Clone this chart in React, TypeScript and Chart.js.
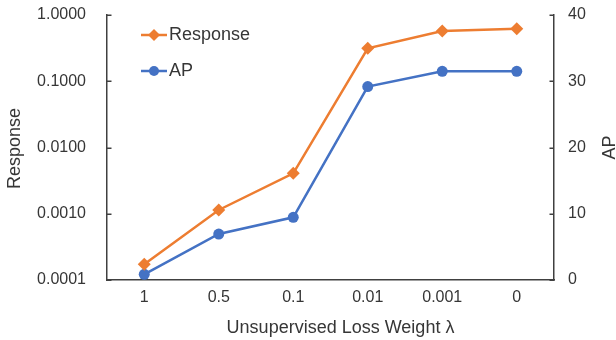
import React, { useEffect, useRef } from 'react';
import { Chart, registerables } from 'chart.js';

Chart.register(...registerables);

const categories = ['1', '0.5', '0.1', '0.01', '0.001', '0'];
const responseValues = [0.000173, 0.00114, 0.00407, 0.314, 0.573, 0.621];
const apValues = [0.86, 6.94, 9.46, 29.2, 31.5, 31.5];
const responseTicks = [0.0001, 0.001, 0.01, 0.1, 1];
const apTicks = [0, 10, 20, 30, 40];

const ORANGE = '#ED7D31';
const BLUE = '#4472C4';
const TEXT = '#363636';
const AXIS = '#404040';
const FONT = "'Liberation Sans', Arial, sans-serif";

const overlayPlugin = {
  id: 'overlay',
  afterDraw(chart: any) {
    const ctx = chart.ctx;
    const area = chart.chartArea;
    ctx.save();
    // inward tick marks
    ctx.strokeStyle = AXIS;
    ctx.lineWidth = 1.5;
    const yL = chart.scales.y;
    const yR = chart.scales.y1;
    responseTicks.forEach((v) => {
      const py = Math.round(yL.getPixelForValue(v)) + 0.25;
      ctx.beginPath();
      ctx.moveTo(area.left, py);
      ctx.lineTo(area.left + 4.5, py);
      ctx.stroke();
    });
    apTicks.forEach((v) => {
      const py = Math.round(yR.getPixelForValue(v)) + 0.25;
      ctx.beginPath();
      ctx.moveTo(area.right, py);
      ctx.lineTo(area.right - 4.5, py);
      ctx.stroke();
    });
    // legend
    const items = [
      { label: 'Response', color: ORANGE, style: 'rectRot', r: 6, y: 35 },
      { label: 'AP', color: BLUE, style: 'circle', r: 5.5, y: 71 },
    ];
    items.forEach((it) => {
      ctx.strokeStyle = it.color;
      ctx.lineWidth = 2.5;
      ctx.beginPath();
      ctx.moveTo(141, it.y);
      ctx.lineTo(167, it.y);
      ctx.stroke();
      ctx.fillStyle = it.color;
      ctx.beginPath();
      if (it.style === 'circle') {
        ctx.arc(154, it.y, 5, 0, Math.PI * 2);
      } else {
        ctx.moveTo(154, it.y - it.r);
        ctx.lineTo(154 + it.r, it.y);
        ctx.lineTo(154, it.y + it.r);
        ctx.lineTo(154 - it.r, it.y);
        ctx.closePath();
      }
      ctx.fill();
      ctx.fillStyle = TEXT;
      ctx.font = `18px ${FONT}`;
      ctx.textAlign = 'left';
      ctx.textBaseline = 'middle';
      ctx.fillText(it.label, 169, it.y);
    });
    // axis titles
    ctx.fillStyle = TEXT;
    ctx.font = `18px ${FONT}`;
    ctx.textAlign = 'center';
    ctx.textBaseline = 'middle';
    ctx.fillText('Unsupervised Loss Weight λ', 340.5, 328);
    const midY = (area.top + area.bottom) / 2;
    ctx.save();
    ctx.translate(15.5, midY + 1);
    ctx.rotate(-Math.PI / 2);
    ctx.fillText('Response', 0, 0);
    ctx.restore();
    ctx.save();
    ctx.translate(610, midY);
    ctx.rotate(-Math.PI / 2);
    ctx.fillText('AP', 0, 0);
    ctx.restore();
    ctx.restore();
  },
};

export default function App() {
  const ref = useRef<HTMLCanvasElement>(null);
  useEffect(() => {
    if (!ref.current) return;
    const chart = new Chart(ref.current, {
      type: 'line',
      data: {
        labels: categories,
        datasets: [
          {
            label: 'Response',
            data: responseValues,
            yAxisID: 'y',
            borderColor: ORANGE,
            backgroundColor: ORANGE,
            borderWidth: 2.5,
            pointStyle: 'rectRot',
            pointRadius: 6.5,
            pointBorderWidth: 0,
            pointBackgroundColor: ORANGE,
            tension: 0,
          },
          {
            label: 'AP',
            data: apValues,
            yAxisID: 'y1',
            borderColor: BLUE,
            backgroundColor: BLUE,
            borderWidth: 2.5,
            pointStyle: 'circle',
            pointRadius: 5.5,
            pointBorderWidth: 0,
            pointBackgroundColor: BLUE,
            tension: 0,
          },
        ],
      },
      options: {
        responsive: false,
        animation: false,
        devicePixelRatio: 1,
        layout: { padding: { top: 15, left: 0, right: 0, bottom: 0 } },
        plugins: { legend: { display: false }, tooltip: { enabled: false } },
        scales: {
          x: {
            offset: true,
            grid: { display: false, drawTicks: false },
            border: { display: true, color: AXIS, width: 1.5 },
            ticks: { color: TEXT, font: { family: FONT, size: 16 }, padding: 8, maxRotation: 0 },
            afterFit: (s: any) => { s.height = 60; s.paddingLeft = 0; s.paddingRight = 0; },
          },
          y: {
            type: 'logarithmic',
            position: 'left',
            min: 0.0001,
            max: 1,
            afterBuildTicks: (s: any) => { s.ticks = responseTicks.map((v) => ({ value: v })); },
            ticks: {
              color: TEXT,
              font: { family: FONT, size: 16 },
              padding: 21,
              callback: (v: any) => Number(v).toFixed(4),
            },
            grid: { display: false, drawTicks: false },
            border: { display: true, color: AXIS, width: 1.5 },
            afterFit: (s: any) => { s.width = 107; s.paddingTop = 0; s.paddingBottom = 0; },
          },
          y1: {
            type: 'linear',
            position: 'right',
            min: 0,
            max: 40,
            afterBuildTicks: (s: any) => { s.ticks = apTicks.map((v) => ({ value: v })); },
            ticks: { color: TEXT, font: { family: FONT, size: 16 }, padding: 14 },
            grid: { display: false, drawTicks: false },
            border: { display: true, color: AXIS, width: 1.5 },
            afterFit: (s: any) => { s.width = 62; s.paddingTop = 0; s.paddingBottom = 0; },
          },
        },
      },
      plugins: [overlayPlugin],
    });
    return () => chart.destroy();
  }, []);
  return (
    <div style={{ position: 'absolute', left: 0, top: 0, width: 616, height: 340, background: '#fff' }}>
      <canvas ref={ref} width={616} height={340} style={{ width: 616, height: 340 }} />
    </div>
  );
}
